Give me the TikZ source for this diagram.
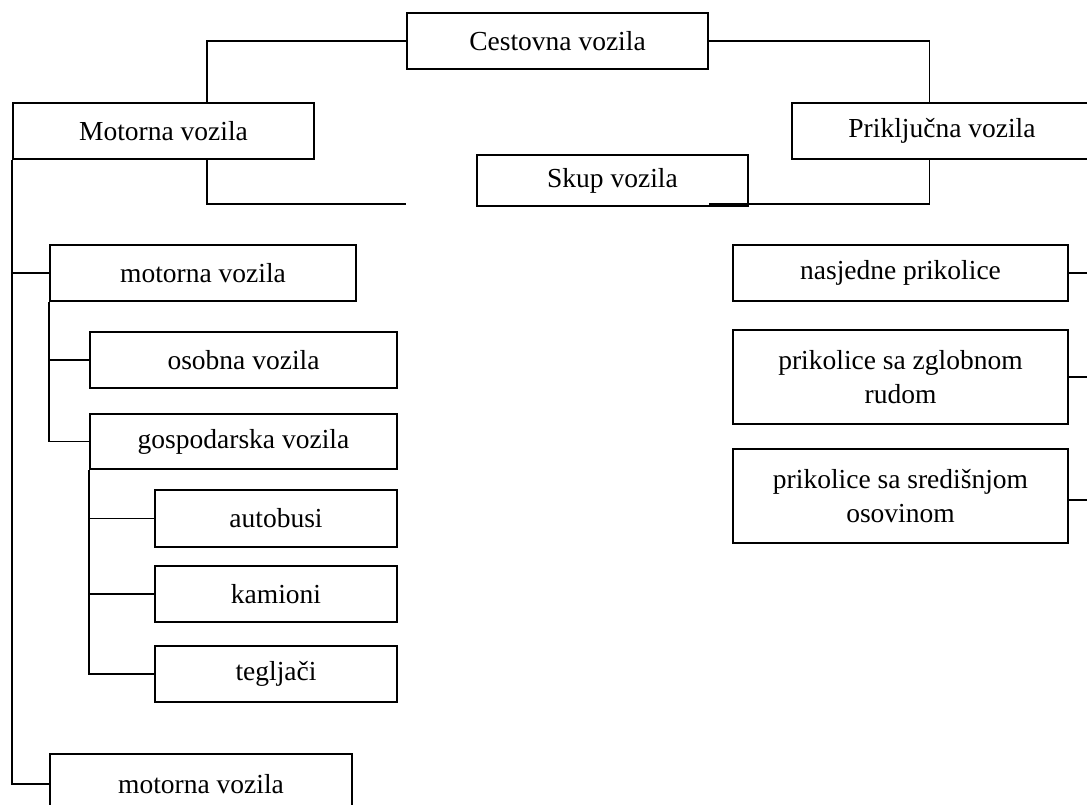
\documentclass[tikz,border=0pt]{standalone}
\usepackage{fontspec}
\setmainfont{Liberation Serif}
\usetikzlibrary{positioning,calc}

\begin{document}
\begin{tikzpicture}[x=1pt,y=-1pt,line width=1.9pt,
	box/.style={draw,rectangle,inner sep=0pt,align=center,font=\fontsize{27.5}{34}\selectfont},
	topbox/.style={box,minimum width=301pt,minimum height=56pt},
	subbox/.style={box,minimum width=307pt,minimum height=56pt},
	leafbox/.style={box,minimum width=242pt,minimum height=56pt},
	trailbox/.style={box,minimum width=335pt,minimum height=56pt}]
%		\draw [step=50pt,thin,dotted] (0,0) grid (1087,805);
		\useasboundingbox (0,0) rectangle (1087,805);
		
		\node[topbox] (cest) at (557.5,41) {Cestovna vozila};
		\node[topbox] (mot) at (163.5,131) {Motorna vozila};
		\node[topbox,minimum width=300pt] (prik) at (942,131) {Priključna vozila};
		\node[box,minimum width=271pt,minimum height=51pt] (skup) at (612.5,180.5) {Skup vozila};
		
		\coordinate (skupL) at (406,204);
		\coordinate (skupR) at (709,204);
		\coordinate (edge) at (1095,0);
		
		\draw (cest.west) -| ([xshift=43.5pt]mot.north);
		\draw (cest.east) -| ([xshift=-12.5pt]prik.north);
		\draw ([xshift=43.5pt]mot.south) |- (skupL);
		\draw ([xshift=-12.5pt]prik.south) |- (skupR);
		
		\node[subbox,minimum width=306pt] (mv1) at (203,273) {motorna vozila};
		\node[subbox] (osob) at (243.5,360) {osobna vozila};
		\node[subbox,minimum height=55pt] (gosp) at (243.5,441.5) {gospodarska vozila};
		\node[leafbox,minimum height=57pt] (auto) at (276,518.5) {autobusi};
		\node[leafbox] (kam) at (276,594) {kamioni};
		\node[leafbox] (teg) at (276,674) {tegljači};
		\node[subbox,minimum width=302pt,minimum height=60pt] (mv2) at (201,784) {motorna vozila};
		
		\draw (mot.south west) |- (mv2.west);
		\draw (mot.south west |- mv1.west) -- (mv1.west);
		\draw (mv1.south west) |- (gosp.west);
		\draw (mv1.south west |- osob.west) -- (osob.west);
		\draw (gosp.south west) |- (teg.west);
		\draw (gosp.south west |- auto.west) -- (auto.west);
		\draw (gosp.south west |- kam.west) -- (kam.west);
		
		\node[trailbox] (nas) at (900.5,273) {nasjedne prikolice};
		\node[trailbox,minimum height=94pt] (zglob) at (900.5,377) {prikolice sa zglobnom\\rudom};
		\node[trailbox,minimum height=94pt] (sred) at (900.5,496) {prikolice sa središnjom\\osovinom};
		
		\draw (nas.east) -- (nas.east -| edge);
		\draw (zglob.east) -- (zglob.east -| edge);
		\draw ([yshift=-4pt]sred.east) -- ([yshift=-4pt]sred.east -| edge);
\end{tikzpicture}
\end{document}
